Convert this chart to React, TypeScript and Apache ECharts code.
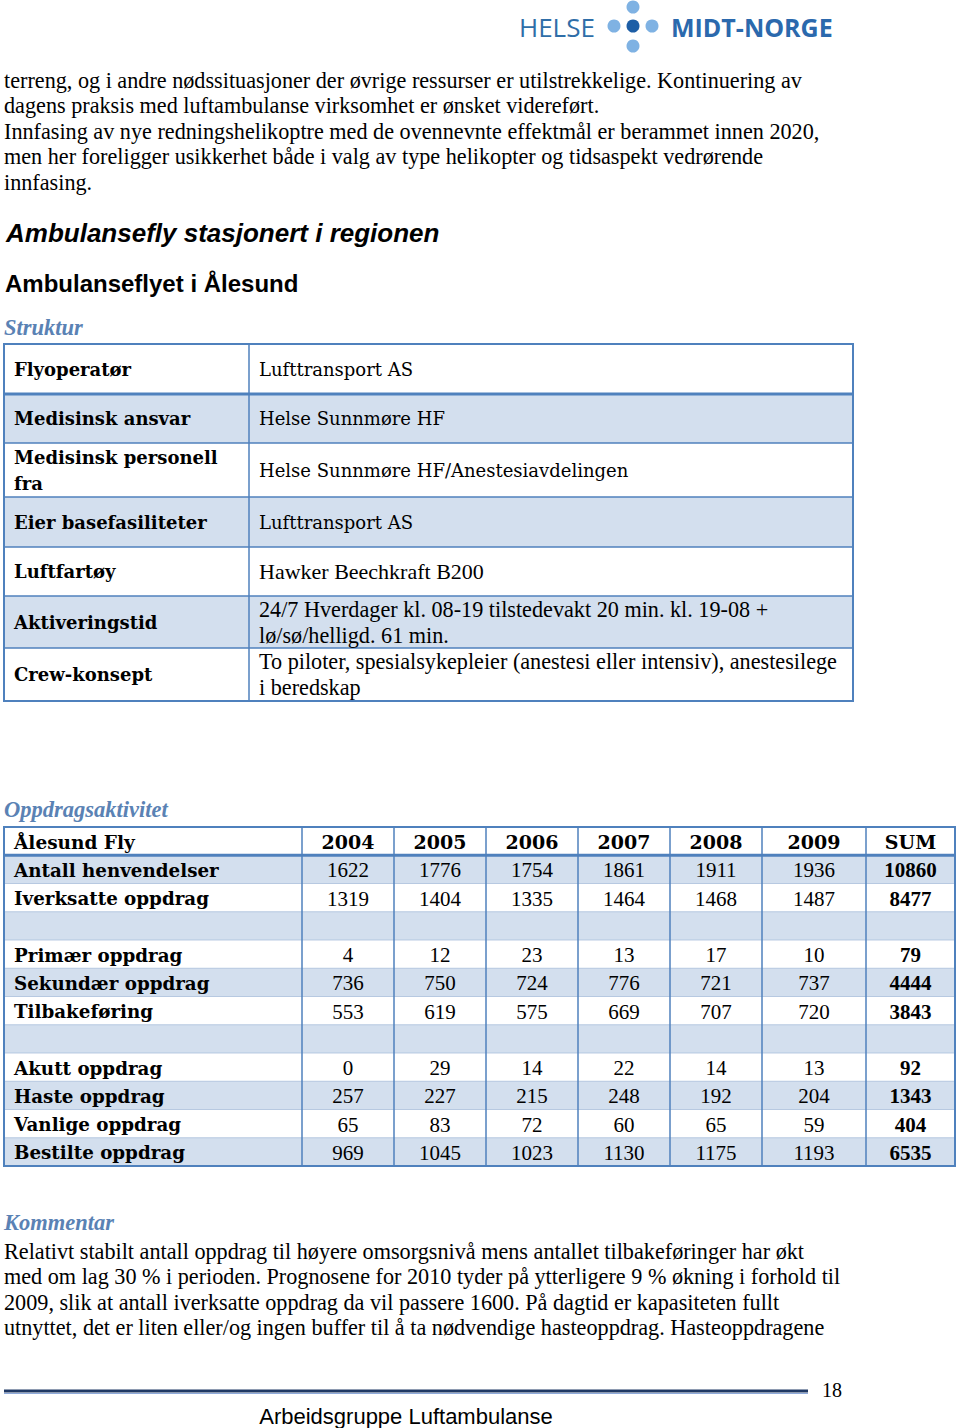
import React, { useEffect, useRef } from "react";
import * as echarts from "echarts";

const introLines = [
  "terreng, og i andre nødssituasjoner der øvrige ressurser er utilstrekkelige. Kontinuering av",
  "dagens praksis med luftambulanse virksomhet er ønsket videreført.",
  "Innfasing av nye redningshelikoptre med de ovennevnte effektmål er berammet innen 2020,",
  "men her foreligger usikkerhet både i valg av type helikopter og tidsaspekt vedrørende",
  "innfasing.",
];

const structLabels = [
  ["Flyoperatør"],
  ["Medisinsk ansvar"],
  ["Medisinsk personell", "fra"],
  ["Eier basefasiliteter"],
  ["Luftfartøy"],
  ["Aktiveringstid"],
  ["Crew-konsept"],
];
const structValues = [
  ["Lufttransport AS"],
  ["Helse Sunnmøre HF"],
  ["Helse Sunnmøre HF/Anestesiavdelingen"],
  ["Lufttransport AS"],
  ["Hawker Beechkraft B200"],
  ["24/7 Hverdager kl. 08-19 tilstedevakt 20 min. kl. 19-08 +", "lø/sø/helligd. 61 min."],
  ["To piloter, spesialsykepleier (anestesi eller intensiv), anestesilege", "i beredskap"],
];

const tableTitle = "Ålesund Fly";
const years = ["2004", "2005", "2006", "2007", "2008", "2009", "SUM"];
const rowLabels = [
  "Antall henvendelser",
  "Iverksatte oppdrag",
  "",
  "Primær oppdrag",
  "Sekundær oppdrag",
  "Tilbakeføring",
  "",
  "Akutt oppdrag",
  "Haste oppdrag",
  "Vanlige oppdrag",
  "Bestilte oppdrag",
];
const antall = [1622, 1776, 1754, 1861, 1911, 1936, 10860];
const iverksatte = [1319, 1404, 1335, 1464, 1468, 1487, 8477];
const primaer = [4, 12, 23, 13, 17, 10, 79];
const sekundaer = [736, 750, 724, 776, 721, 737, 4444];
const tilbake = [553, 619, 575, 669, 707, 720, 3843];
const akutt = [0, 29, 14, 22, 14, 13, 92];
const haste = [257, 227, 215, 248, 192, 204, 1343];
const vanlige = [65, 83, 72, 60, 65, 59, 404];
const bestilte = [969, 1045, 1023, 1130, 1175, 1193, 6535];
const rowValues: (number[] | null)[] = [
  antall, iverksatte, null, primaer, sekundaer, tilbake, null, akutt, haste, vanlige, bestilte,
];

const commentLines = [
  "Relativt stabilt antall oppdrag til høyere omsorgsnivå mens antallet tilbakeføringer har økt",
  "med om lag 30 % i perioden. Prognosene for 2010 tyder på ytterligere 9 % økning i forhold til",
  "2009, slik at antall iverksatte oppdrag da vil passere 1600. På dagtid er kapasiteten fullt",
  "utnyttet, det er liten eller/og ingen buffer til å ta nødvendige hasteoppdrag. Hasteoppdragene",
];

const BLUE = "#4f81bd";
const SHADE = "#d3dfee";
const HEAD = "#5a82b4";
const SERIF = '"Liberation Serif"';
const CAMB = '"DejaVu Serif"';
const SANS = '"Liberation Sans"';

function txt(x: number, y: number, text: string, font: string, fill = "#000", align = "left") {
  return {
    type: "text",
    x,
    y,
    silent: true,
    style: { text, font, fill, textAlign: align, textVerticalAlign: "middle" },
  };
}

function buildGraphics() {
  const g: any[] = [];
  // logo
  g.push(txt(519, 27, "HELSE", '400 26px "Open Sans"', "#2f6ea8"));
  g.push(txt(671, 27, "MIDT-NORGE", '700 25px "Open Sans"', "#2b69ad"));
  const dots = [
    [633, 7, "#7fb2e3"],
    [614, 26, "#7fb2e3"],
    [633, 26, "#1d5ea6"],
    [652, 26, "#7fb2e3"],
    [633, 46, "#7fb2e3"],
  ];
  dots.forEach(([cx, cy, c]) =>
    g.push({ type: "circle", shape: { cx, cy, r: 6.5 }, style: { fill: c }, silent: true })
  );

  // intro text
  const introY = [80, 105.5, 131, 156.5, 182];
  introLines.forEach((l, i) => g.push(txt(4, introY[i], l, `22.2px ${SERIF}`)));

  g.push(txt(6, 233, "Ambulansefly stasjonert i regionen", `italic bold 26px ${SANS}`));
  g.push(txt(5, 283, "Ambulanseflyet i Ålesund", `bold 24px ${SANS}`));
  g.push(txt(4, 327, "Struktur", `italic bold 22.5px ${SERIF}`, HEAD));

  // structure table
  const sL = 4, sR = 853, sMid = 249;
  const sRows = [344, 394, 443, 497, 547, 596, 648, 701];
  for (let i = 0; i < 7; i++) {
    if (i % 2 === 1) {
      g.push({ type: "rect", shape: { x: sL, y: sRows[i], width: sR - sL, height: sRows[i + 1] - sRows[i] }, style: { fill: SHADE }, silent: true });
    }
  }
  for (let i = 1; i < 7; i++) {
    g.push({ type: "line", shape: { x1: sL, y1: sRows[i], x2: sR, y2: sRows[i] }, style: { stroke: BLUE, lineWidth: i === 1 ? 3 : 1.5 }, silent: true });
  }
  g.push({ type: "line", shape: { x1: sMid, y1: sRows[0], x2: sMid, y2: sRows[7] }, style: { stroke: BLUE, lineWidth: 1.5 }, silent: true });
  g.push({ type: "rect", shape: { x: sL, y: sRows[0], width: sR - sL, height: sRows[7] - sRows[0] }, style: { fill: "none", stroke: BLUE, lineWidth: 2 }, silent: true });

  const sValFontPlain = `18px ${CAMB}`;
  for (let i = 0; i < 7; i++) {
    const cy = (sRows[i] + sRows[i + 1]) / 2;
    const lab = structLabels[i];
    if (lab.length === 1) g.push(txt(14, cy, lab[0], `bold 18px ${CAMB}`));
    else lab.forEach((t, k) => g.push(txt(14, cy - 13 + 26 * k, t, `bold 18px ${CAMB}`)));
    const val = structValues[i];
    if (val.length === 1) g.push(txt(259, cy, val[0], i === 4 ? `22px ${SERIF}` : sValFontPlain));
    else val.forEach((t, k) => g.push(txt(259, cy - 13 + 26 * k, t, `22.2px ${SERIF}`)));
  }

  // activity table
  g.push(txt(4, 809, "Oppdragsaktivitet", `italic bold 22.5px ${SERIF}`, HEAD));
  const aL = 4, aR = 955;
  const cols = [aL, 302, 394, 486, 578, 670, 762, 866, aR];
  const aRows: number[] = [];
  for (let i = 0; i <= 12; i++) aRows.push(827 + i * 28.25);
  for (let i = 0; i < 12; i++) {
    if (i % 2 === 1) {
      g.push({ type: "rect", shape: { x: aL, y: aRows[i], width: aR - aL, height: aRows[i + 1] - aRows[i] }, style: { fill: SHADE }, silent: true });
    }
  }
  for (let i = 1; i < 12; i++) {
    g.push({ type: "line", shape: { x1: aL, y1: aRows[i], x2: aR, y2: aRows[i] }, style: { stroke: i === 1 ? BLUE : "#a9bfdc", lineWidth: i === 1 ? 3 : 0.8 }, silent: true });
  }
  for (let c = 1; c < cols.length - 1; c++) {
    g.push({ type: "line", shape: { x1: cols[c], y1: aRows[0], x2: cols[c], y2: aRows[12] }, style: { stroke: BLUE, lineWidth: 1.5 }, silent: true });
  }
  g.push({ type: "rect", shape: { x: aL, y: aRows[0], width: aR - aL, height: aRows[12] - aRows[0] }, style: { fill: "none", stroke: BLUE, lineWidth: 2 }, silent: true });

  const hy = (aRows[0] + aRows[1]) / 2 + 1;
  g.push(txt(14, hy, tableTitle, `bold 18.5px ${CAMB}`));
  years.forEach((y, c) => {
    const cx = (cols[c + 1] + cols[c + 2]) / 2;
    g.push(txt(cx, hy, y, `bold 19px ${CAMB}`, "#000", "center"));
  });
  rowLabels.forEach((lab, r) => {
    const cy = (aRows[r + 1] + aRows[r + 2]) / 2 + 1;
    if (lab) g.push(txt(14, cy, lab, `bold 18.3px ${CAMB}`));
    const vals = rowValues[r];
    if (vals) {
      vals.forEach((v, c) => {
        const cx = (cols[c + 1] + cols[c + 2]) / 2;
        g.push(txt(cx, cy, String(v), c === 6 ? `bold 21px ${SERIF}` : `21px ${SERIF}`, "#000", "center"));
      });
    }
  });

  // comment
  g.push(txt(4, 1222, "Kommentar", `italic bold 22.5px ${SERIF}`, HEAD));
  const cY = [1251, 1276.5, 1302, 1327.5];
  commentLines.forEach((l, i) => g.push(txt(4, cY[i], l, `22.2px ${SERIF}`)));

  // footer
  g.push({ type: "line", shape: { x1: 4, y1: 1391, x2: 808, y2: 1391 }, style: { stroke: "#1f3864", lineWidth: 3 }, silent: true });
  g.push({ type: "line", shape: { x1: 4, y1: 1393.5, x2: 808, y2: 1393.5 }, style: { stroke: "#8eaadb", lineWidth: 1 }, silent: true });
  g.push(txt(822, 1390, "18", `20px ${SERIF}`));
  g.push(txt(406, 1416, "Arbeidsgruppe Luftambulanse", `22px ${SANS}`, "#000", "center"));
  return g;
}

export default function App() {
  const ref = useRef<HTMLDivElement>(null);
  useEffect(() => {
    document.body.style.margin = "0";
    const chart = echarts.init(ref.current!, null, { renderer: "svg" });
    chart.setOption({
      animation: false,
      backgroundColor: "#ffffff",
      graphic: { elements: buildGraphics() },
    });
    return () => chart.dispose();
  }, []);
  return <div ref={ref} style={{ width: 960, height: 1428 }} />;
}
